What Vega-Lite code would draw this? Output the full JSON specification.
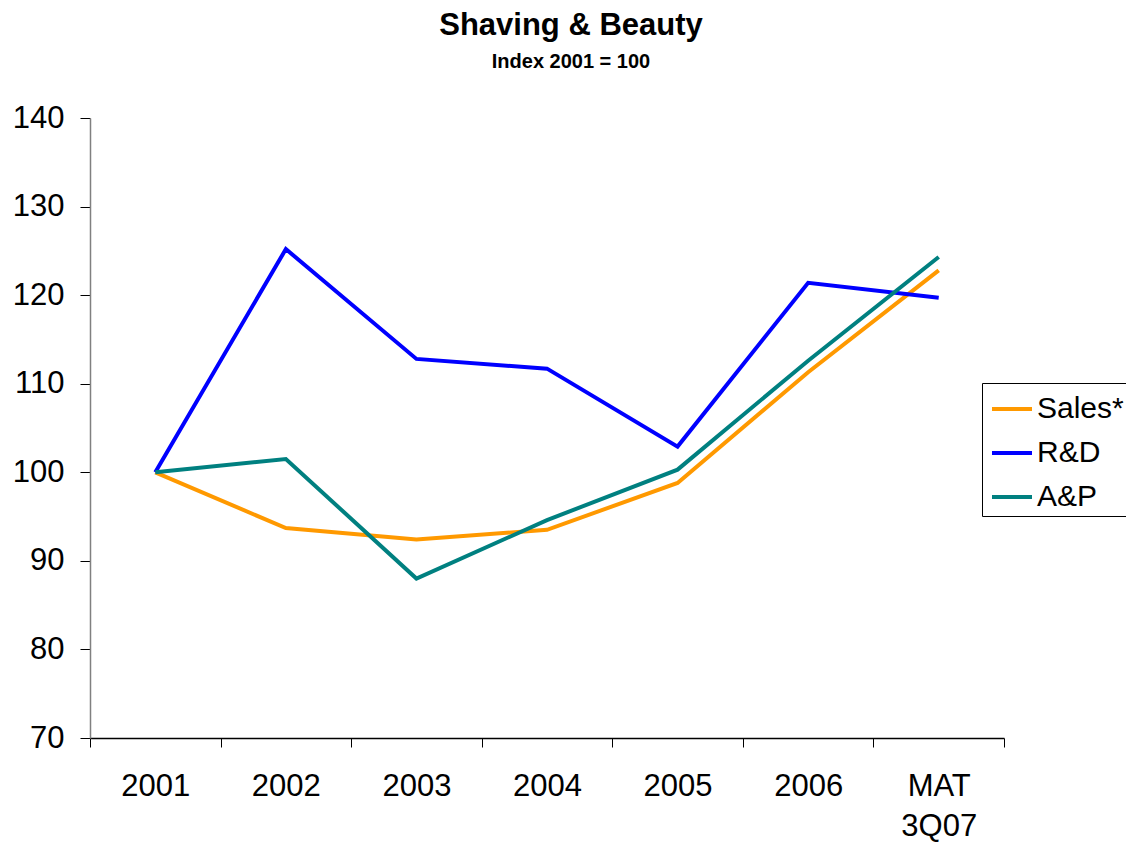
{
  "$schema": "https://vega.github.io/schema/vega-lite/v6.json",
  "width": 914,
  "height": 620,
  "autosize": "none",
  "padding": {"left": 90, "top": 118, "right": 122, "bottom": 105},
  "background": "white",
  "title": {
    "text": "Shaving & Beauty",
    "subtitle": "Index 2001 = 100",
    "font": "Liberation Sans",
    "subtitleFont": "Liberation Sans",
    "fontSize": 31,
    "fontWeight": "bold",
    "subtitleFontSize": 20,
    "subtitleFontWeight": "bold",
    "subtitlePadding": 10,
    "color": "black",
    "subtitleColor": "black",
    "anchor": "middle",
    "dx": 24,
    "offset": 29
  },
  "data": {
    "values": [
      {"period": "2001", "series": "Sales*", "value": 100},
      {"period": "2002", "series": "Sales*", "value": 93.7},
      {"period": "2003", "series": "Sales*", "value": 92.4},
      {"period": "2004", "series": "Sales*", "value": 93.5},
      {"period": "2005", "series": "Sales*", "value": 98.8},
      {"period": "2006", "series": "Sales*", "value": 111.3},
      {"period": "MAT 3Q07", "series": "Sales*", "value": 122.8},
      {"period": "2001", "series": "R&D", "value": 100},
      {"period": "2002", "series": "R&D", "value": 125.2},
      {"period": "2003", "series": "R&D", "value": 112.8},
      {"period": "2004", "series": "R&D", "value": 111.7},
      {"period": "2005", "series": "R&D", "value": 102.9},
      {"period": "2006", "series": "R&D", "value": 121.4},
      {"period": "MAT 3Q07", "series": "R&D", "value": 119.7},
      {"period": "2001", "series": "A&P", "value": 100},
      {"period": "2002", "series": "A&P", "value": 101.5},
      {"period": "2003", "series": "A&P", "value": 88.0},
      {"period": "2004", "series": "A&P", "value": 94.6},
      {"period": "2005", "series": "A&P", "value": 100.3},
      {"period": "2006", "series": "A&P", "value": 112.6},
      {"period": "MAT 3Q07", "series": "A&P", "value": 124.3}
    ]
  },
  "mark": {"type": "line", "strokeWidth": 4},
  "encoding": {
    "x": {
      "field": "period",
      "type": "ordinal",
      "sort": null,
      "scale": {"type": "band", "paddingInner": 0, "paddingOuter": 0},
      "axis": {
        "title": null,
        "labelAngle": 0,
        "tickBand": "extent",
        "labelFont": "Liberation Sans",
        "labelFontSize": 31,
        "labelColor": "black",
        "labelExpr": "datum.value == 'MAT 3Q07' ? ['MAT', '3Q07'] : datum.value",
        "labelLineHeight": 40,
        "labelPadding": 24,
        "labelBaseline": "top",
        "tickSize": 9,
        "tickColor": "black",
        "domainColor": "black",
        "domainWidth": 1.5,
        "grid": false
      }
    },
    "y": {
      "field": "value",
      "type": "quantitative",
      "scale": {"domain": [70, 140], "nice": false, "zero": false},
      "axis": {
        "title": null,
        "values": [70, 80, 90, 100, 110, 120, 130, 140],
        "labelFont": "Liberation Sans",
        "labelFontSize": 31,
        "labelColor": "black",
        "labelPadding": 16,
        "tickSize": 10,
        "tickColor": "black",
        "domainColor": "#808080",
        "domainWidth": 1.5,
        "grid": false
      }
    },
    "color": {
      "field": "series",
      "type": "nominal",
      "sort": ["Sales*", "R&D", "A&P"],
      "scale": {"domain": ["Sales*", "R&D", "A&P"], "range": ["#FF9900", "#0000FF", "#008080"]},
      "legend": {
        "title": null,
        "orient": "none",
        "legendX": 892,
        "legendY": 265,
        "symbolType": "stroke",
        "symbolStrokeWidth": 4,
        "symbolSize": 1600,
        "symbolOffset": 4,
        "labelFont": "Liberation Sans",
        "labelFontSize": 30,
        "labelColor": "black",
        "rowPadding": 7,
        "labelOffset": 3,
        "strokeColor": "black",
        "padding": 4,
        "fillColor": "white"
      }
    }
  },
  "config": {"view": {"stroke": null}}
}
